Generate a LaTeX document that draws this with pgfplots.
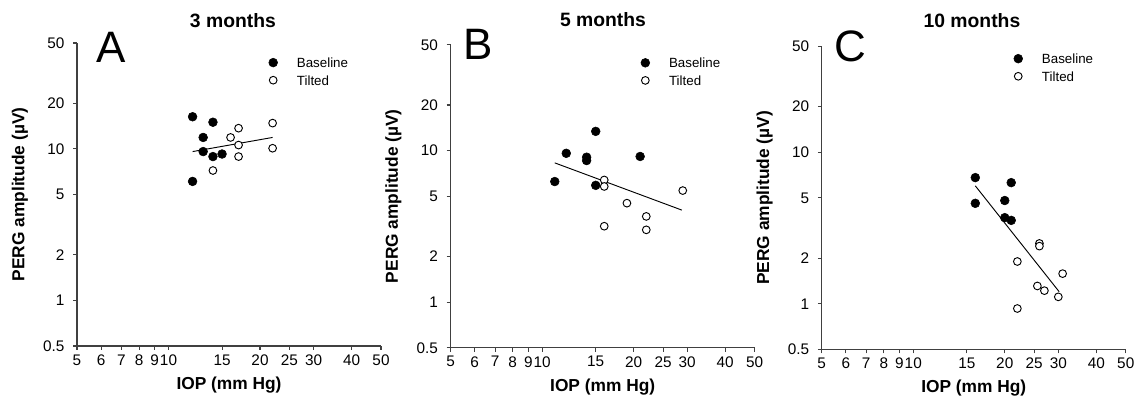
\documentclass[border=0pt]{standalone}
\usepackage{fontspec}
\setmainfont{Liberation Sans}
\usepackage{pgfplots}
\pgfplotsset{compat=1.18}
\pgfplotsset{
  every axis/.append style={
  scale only axis, width=228pt, height=227.25pt,
  xmin=5, xmax=50, ymin=0.5, ymax=50,
  axis lines*=left, axis line style={black!75, line width=0.8pt},
  xtick={5,6,7,8,9,10,15,20,25,30,40,50},
  xticklabels={5,6,7,8,9,10,15,20,25,30,40,50},
  ytick={0.5,1,2,5,10,20,50},
  yticklabels={0.5,1,2,5,10,20,50},
  tick align=outside, major tick length=3pt,
  tick style={black!75, line width=0.8pt},
  tick label style={font=\fontsize{11.5}{13}\selectfont},
  yticklabel style={xshift=-3pt},
  xlabel={IOP (mm Hg)}, ylabel={PERG amplitude (µV)},
  label style={font=\fontsize{13}{15}\selectfont\bfseries},
  x label style={at={(axis description cs:0.5,-0.143)}, anchor=base},
  y label style={at={(axis description cs:-0.188,0.5)}, anchor=center},
  clip=false,
  legend style={draw=none, fill=none, inner sep=0pt,
    font=\fontsize{10}{12}\selectfont, row sep=6pt, column sep=14.5pt,
    nodes={inner sep=0pt, text height=7.2pt, text depth=0pt}, anchor=north west},
  legend cell align=left,
 },
}
\begin{document}
\begin{tikzpicture}
\useasboundingbox (0,0) rectangle (858pt,-312pt);
% Panel A
\begin{axis}[xmode=log, ymode=log, at={(57.75pt,-259.5pt)}, anchor=south west,
  title={3 months}, title style={at={(axis description cs:0.513,1.049)}, anchor=center, font=\fontsize{14.5}{17}\selectfont\bfseries},
  legend style={at={(axis description cs:0.630,0.952)}}]
\addplot[only marks, mark=*, mark size=3.3pt, black, mark options={fill=black}] coordinates {(12,16.3) (14,15.0) (13,11.9) (13,9.6) (14,8.9) (15,9.25) (12,6.1)};
\addplot[only marks, mark=*, mark size=2.9pt, black, line width=0.7pt, mark options={fill=white}] coordinates {(16,11.9) (17,13.7) (17,10.6) (17,8.9) (14,7.2) (22,14.8) (22,10.1)};
\addplot[black, line width=0.7pt, mark=none] coordinates {(12,9.6) (22,11.9)};
\legend{Baseline,Tilted}
\node[font=\fontsize{33}{36}\selectfont] at (axis description cs:0.112,0.987) {A};
\end{axis}
% Panel B
\begin{axis}[xmode=log, ymode=log, at={(338.0pt,-260.8pt)}, anchor=south west,
  title={5 months}, title style={at={(axis description cs:0.501,1.057)}, anchor=center, font=\fontsize{14.5}{17}\selectfont\bfseries},
  legend style={at={(axis description cs:0.625,0.957)}}]
\addplot[only marks, mark=*, mark size=3.3pt, black, mark options={fill=black}] coordinates {(11,6.25) (12,9.6) (14,9.05) (14,8.6) (15,13.4) (15,5.9) (21,9.15)};
\addplot[only marks, mark=*, mark size=2.9pt, black, line width=0.7pt, mark options={fill=white}] coordinates {(16,6.4) (16,5.8) (16,3.17) (19,4.5) (22,3.68) (22,3.0) (29,5.45)};
\addplot[black, line width=0.7pt, mark=none] coordinates {(11,8.3) (28.8,4.05)};
\legend{Baseline,Tilted}
\node[font=\fontsize{33}{36}\selectfont] at (axis description cs:0.091,1.0) {B};
\end{axis}
% Panel C
\begin{axis}[xmode=log, ymode=log, at={(616.3pt,-262.0pt)}, anchor=south west,
  title={10 months}, title style={at={(axis description cs:0.494,1.059)}, anchor=center, font=\fontsize{14.5}{17}\selectfont\bfseries},
  legend style={at={(axis description cs:0.631,0.976)}}]
\addplot[only marks, mark=*, mark size=3.3pt, black, mark options={fill=black}] coordinates {(16,6.8) (16,4.6) (21,6.3) (20,4.8) (20,3.7) (21,3.55)};
\addplot[only marks, mark=*, mark size=2.9pt, black, line width=0.7pt, mark options={fill=white}] coordinates {(26,2.5) (26,2.4) (22,1.9) (22,0.93) (25.6,1.31) (27,1.22) (30,1.11) (31,1.58)};
\addplot[black, line width=0.7pt, mark=none] coordinates {(16,6.0) (30.2,1.2)};
\legend{Baseline,Tilted}
\node[font=\fontsize{33}{36}\selectfont] at (axis description cs:0.093,0.999) {C};
\end{axis}
\end{tikzpicture}
\end{document}
